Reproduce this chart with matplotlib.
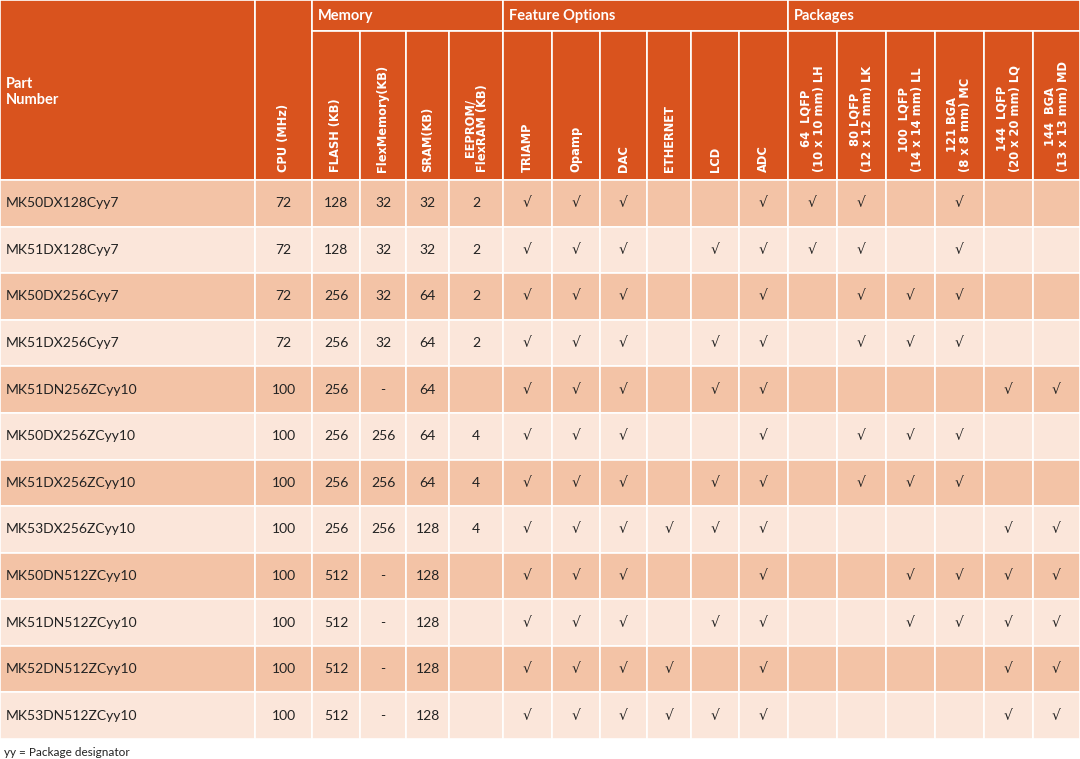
import matplotlib
matplotlib.use("Agg")
import matplotlib.pyplot as plt
from matplotlib.patches import Rectangle

plt.rcParams['font.family'] = ['Lato', 'DejaVu Sans']

parts = ["MK50DX128Cyy7", "MK51DX128Cyy7", "MK50DX256Cyy7", "MK51DX256Cyy7",
         "MK51DN256ZCyy10", "MK50DX256ZCyy10", "MK51DX256ZCyy10", "MK53DX256ZCyy10",
         "MK50DN512ZCyy10", "MK51DN512ZCyy10", "MK52DN512ZCyy10", "MK53DN512ZCyy10"]
cpu = ["72", "72", "72", "72", "100", "100", "100", "100", "100", "100", "100", "100"]
flash = ["128", "128", "256", "256", "256", "256", "256", "256", "512", "512", "512", "512"]
flexmem = ["32", "32", "32", "32", "-", "256", "256", "256", "-", "-", "-", "-"]
sram = ["32", "32", "64", "64", "64", "64", "64", "128", "128", "128", "128", "128"]
eeprom = ["2", "2", "2", "2", "", "4", "4", "4", "", "", "", ""]
# feature flags: TRIAMP Opamp DAC ETHERNET LCD ADC
features = ["111001", "111011", "111001", "111011", "111011", "111001",
            "111011", "111111", "111001", "111011", "111101", "111111"]
# package flags: LH LK LL MC LQ MD
packages = ["110100", "110100", "011100", "011100", "000011", "011100",
            "011100", "000011", "001111", "001111", "000011", "000011"]

col_labels = ["CPU (MHz)", "FLASH (KB)", "FlexMemory(KB)", "SRAM(KB)", "EEPROM/\nFlexRAM (KB)",
              "TRIAMP", "Opamp", "DAC", "ETHERNET", "LCD", "ADC",
              "64  LQFP\n(10 x 10 mm) LH", "80 LQFP\n(12 x 12 mm) LK", "100  LQFP\n(14 x 14 mm) LL",
              "121 BGA\n(8 x 8 mm) MC", "144  LQFP\n(20 x 20 mm) LQ", "144  BGA\n(13 x 13 mm) MD"]
groups = [("Memory", 1, 5), ("Feature Options", 5, 11), ("Packages", 11, 17)]

xb = [0, 255, 312, 360, 406, 449, 503, 552, 600, 647, 691, 739, 788, 837, 886, 935, 984, 1033, 1080]
W, H = 1080, 759
head_top, sub_top, head_bot = 0, 31, 180
row_h = (739 - 180) / 12

HEAD = "#D9531E"
ODD = "#F3C3A6"
EVEN = "#FBE6DA"

fig = plt.figure(figsize=(10.8, 7.59), dpi=100)
ax = fig.add_axes([0, 0, 1, 1])
ax.set_xlim(0, W)
ax.set_ylim(H, 0)
ax.axis("off")

def cell(x0, y0, x1, y1, color):
    ax.add_patch(Rectangle((x0, y0), x1 - x0, y1 - y0, facecolor=color,
                           edgecolor="white", linewidth=1.2))

cell(xb[0], head_top, xb[1], head_bot, HEAD)
ax.text(6, 92, "Part\nNumber", color="white", fontsize=10.5, fontweight="bold",
        ha="left", va="center", linespacing=1.15)
cell(xb[1], head_top, xb[2], head_bot, HEAD)
for name, a, b in groups:
    cell(xb[a + 1], head_top, xb[b + 1], sub_top, HEAD)
    ax.text(xb[a + 1] + 6, 16, name, color="white", fontsize=10.5, fontweight="bold",
            ha="left", va="center")
for i, lab in enumerate(col_labels):
    x0, x1 = xb[i + 1], xb[i + 2]
    if i > 0:
        cell(x0, sub_top, x1, head_bot, HEAD)
    ax.text((x0 + x1) / 2, head_bot - 8, lab, color="white", fontsize=8.3, fontweight="bold",
            rotation=90, ha="center", va="bottom", linespacing=1.0, family=['DejaVu Sans'])

for r in range(12):
    y0 = head_bot + r * row_h
    y1 = y0 + row_h
    yc = (y0 + y1) / 2
    color = ODD if r % 2 == 0 else EVEN
    for c in range(len(xb) - 1):
        cell(xb[c], y0, xb[c + 1], y1, color)
    ax.text(6, yc, parts[r], fontsize=10, ha="left", va="center", color="#222222")
    vals = [cpu[r], flash[r], flexmem[r], sram[r], eeprom[r]]
    vals += ["√" if f == "1" else "" for f in features[r]]
    vals += ["√" if f == "1" else "" for f in packages[r]]
    for c, v in enumerate(vals):
        x = (xb[c + 1] + xb[c + 2]) / 2
        ax.text(x, yc, v, fontsize=10, ha="center", va="center", color="#222222",
                family=['DejaVu Sans'] if v == "√" else None)

ax.text(4, 752, "yy = Package designator", fontsize=8.5, ha="left", va="center", color="#222222")

fig.savefig("out.png", dpi=100, facecolor="white")
